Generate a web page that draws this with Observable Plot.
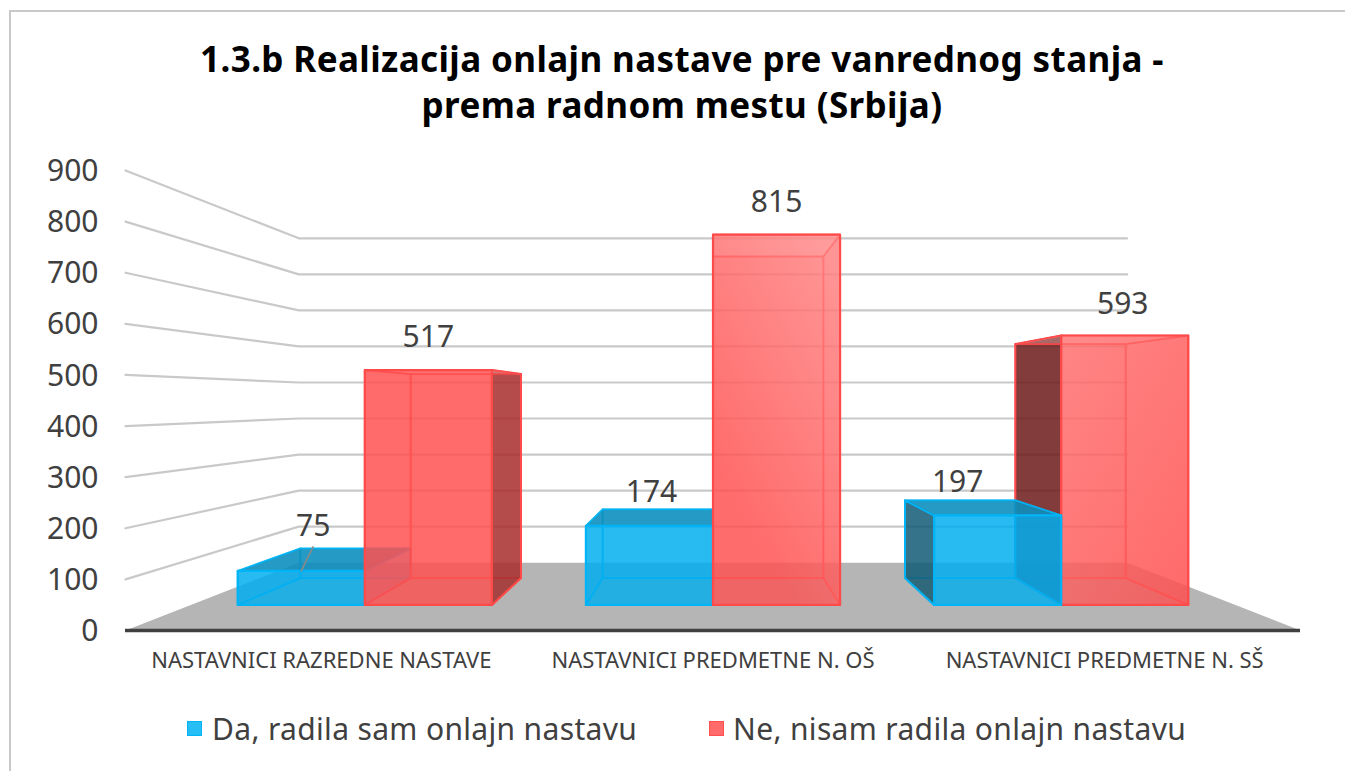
<!DOCTYPE html>
<html>
<head>
<meta charset="utf-8">
<script src="https://cdn.jsdelivr.net/npm/d3@7"></script>
<script src="https://cdn.jsdelivr.net/npm/@observablehq/plot@0.6"></script>
<style>
  html, body { margin: 0; padding: 0; background: #fff; }
  body { width: 1345px; height: 771px; overflow: hidden; position: relative; font-family: "Noto Sans", sans-serif; }
  #frame { position: absolute; left: 9px; top: 10px; right: -5px; bottom: -5px; border: 2px solid #c9c9c9; box-sizing: border-box; }
  #title { position: absolute; top: 36px; left: 0; width: 1364px; text-align: center; font-weight: 700; font-size: 35px; line-height: 46px; color: #000; letter-spacing: 0.39px; white-space: nowrap; }
  #chart { position: absolute; left: 0; top: 145px; }
  #chart svg { display: block; }
  .sw { position: absolute; top: 721px; width: 15px; height: 15px; box-sizing: border-box; border: 1.5px solid; }
  .lg { position: absolute; top: 708px; font-size: 30px; line-height: 42px; color: #404040; letter-spacing: 0.34px; white-space: nowrap; }
</style>
</head>
<body>
<div id="frame"></div>
<div id="title">1.3.b Realizacija onlajn nastave pre vanrednog stanja -<br>prema radnom mestu (Srbija)</div>
<div id="chart"></div>
<div class="sw" style="left:187px;background:#27BDF5;border-color:#00B4F5"></div>
<div class="lg" style="left:212px">Da, radila sam onlajn nastavu</div>
<div class="sw" style="left:709px;background:#FF6B6B;border-color:#FF4F4F"></div>
<div class="lg" style="left:733px">Ne, nisam radila onlajn nastavu</div>
<script>
const categories = ["NASTAVNICI RAZREDNE NASTAVE", "NASTAVNICI PREDMETNE N. OŠ", "NASTAVNICI PREDMETNE N. SŠ"];
const yesValues = [75, 174, 197];
const noValues = [517, 815, 593];
const yTicks = [0, 100, 200, 300, 400, 500, 600, 700, 800, 900];

// perspective model of the 3-D view: depth factor s scales about the vanishing point
const vanishC = 1, vanishV = 450;
const depthWall = 0.705, depthBarFront = 0.889, depthBarBack = 0.772;
const halfBar = 0.365;
const P = (c, v, s) => ({x: vanishC + (c - vanishC) * s, y: vanishV + (v - vanishV) * s});
const line = (pts, o) => Plot.line([...pts, pts[0]], {x: "x", y: "y", curve: "linear", ...o});

const blue = {
  back: "#00B0F0", bottom: "#0090C8", top: "#0E8DBA", front: "#00AEF0",
  stroke: "#00B4F5", dark: "#14566E"
};
const red = {
  back: "#FF5050", bottom: "#C03030", top: "#FFB8B8", front: "#FF5050",
  stroke: "#FF4A4A", dark: "#A22C2C", darker: "#641818"
};

function bar(c0, c1, v, pal, sideStyle, frontFill) {
  const f = depthBarFront, b = depthBarBack;
  const marks = [];
  const face = (pts, fill, op, sw = 1.6, so = 0.85) =>
    marks.push(line(pts, {fill, fillOpacity: op, stroke: pal.stroke, strokeWidth: sw, strokeOpacity: so, strokeLinejoin: "round"}));
  face([P(c0,0,b), P(c1,0,b), P(c1,v,b), P(c0,v,b)], pal.back, 0.3, 1.8, 0.7);
  face([P(c0,0,f), P(c1,0,f), P(c1,0,b), P(c0,0,b)], pal.bottom, 0.1, 1.8, 0.7);
  const left = [P(c0,0,f), P(c0,0,b), P(c0,v,b), P(c0,v,f)];
  const right = [P(c1,0,f), P(c1,0,b), P(c1,v,b), P(c1,v,f)];
  if (sideStyle.left) face(left, sideStyle.left, 0.8, 2, 1); else face(left, pal.back, 0.3, 1.8, 0.7);
  if (sideStyle.right) face(right, sideStyle.right, 0.8, 2, 1); else face(right, pal.back, 0.3, 1.8, 0.7);
  face([P(c0,v,f), P(c1,v,f), P(c1,v,b), P(c0,v,b)], pal.top, v > vanishV ? 0.3 : 0.86, 1.6, 0.9);
  face([P(c0,0,f), P(c1,0,f), P(c1,v,f), P(c0,v,f)], frontFill || pal.front, 0.78, 2.2, 1);
  return marks;
}

// floor and walls
const floor = [P(-0.5,0,1), P(2.5,0,1), P(2.5,0,depthWall), P(-0.5,0,depthWall)];
const grid = yTicks.slice(1).map(v => Plot.line([P(-0.5,v,1), P(-0.5,v,depthWall), P(2.5,v,depthWall)],
  {x:"x", y:"y", stroke:"#c9c9c9", strokeWidth:2.2}));

const barMarks = [
  ...bar(0 - halfBar, 0, yesValues[0], blue, {}),
  ...bar(0, 0 + halfBar, noValues[0], red, {right: red.dark}),
  ...bar(1 - halfBar, 1, yesValues[1], blue, {}),
  ...bar(1, 1 + halfBar, noValues[1], red, {}, "url(#redGrad)"),
  ...bar(2, 2 + halfBar, noValues[2], red, {left: red.darker}, "url(#redGrad2)"),
  ...bar(2 - halfBar, 2, yesValues[2], blue, {left: blue.dark})
];

// data labels sit above the front-top edge of each bar
const labelRows = [
  {c: -halfBar/2, v: yesValues[0], dx: 12, dy: -45},
  {c: halfBar/2, v: noValues[0], dx: 0, dy: -33},
  {c: 1-halfBar/2, v: yesValues[1], dx: 2, dy: -34},
  {c: 1+halfBar/2, v: noValues[1], dx: 0, dy: -32},
  {c: 2-halfBar/2, v: yesValues[2], dx: -40, dy: -33},
  {c: 2+halfBar/2, v: noValues[2], dx: -2, dy: -31}
].map(d => ({...P(d.c, d.v, depthBarFront), label: String(d.v), dx: d.dx, dy: d.dy}));

const labelMarks = labelRows.map(d => Plot.text([d], {x:"x", y:"y", text:"label", dx:d.dx, dy:d.dy, fontSize:30, fill:"#404040", stroke:"none"}));

// leader for the smallest label
const leadFrom = P(-halfBar/2, yesValues[0], depthBarFront);
const leader = Plot.line([leadFrom, {x: leadFrom.x + 0.03, y: leadFrom.y + 47}], {x:"x", y:"y", stroke:"#8a8a8a", strokeWidth:1.6});

const defs = () => {
  const d = d3.create("svg:defs");
  const g = d.append("linearGradient").attr("id","redGrad").attr("x1",0.8).attr("y1",0).attr("x2",0.2).attr("y2",1);
  g.append("stop").attr("offset",0).attr("stop-color","#FF8585");
  g.append("stop").attr("offset",0.8).attr("stop-color","#FF5252");
  const g2 = d.append("linearGradient").attr("id","redGrad2").attr("x1",0.1).attr("y1",0).attr("x2",0.9).attr("y2",1);
  g2.append("stop").attr("offset",0).attr("stop-color","#FF7070");
  g2.append("stop").attr("offset",1).attr("stop-color","#FF5050");
  return d.node();
};

const chart = Plot.plot({
  width: 1345, height: 540,
  marginLeft: 125, marginRight: 45, marginTop: 25, marginBottom: 55,
  x: {domain: [-0.5, 2.5], axis: null},
  y: {domain: [0, 900], axis: null},
  style: {fontFamily: '"Noto Sans", sans-serif', background: "transparent", overflow: "visible"},
  marks: [
    defs,
    line(floor, {fill:"#B5B5B5", stroke:"none"}),
    ...grid,
    Plot.ruleY([0], {x1: -0.5, x2: 2.5, stroke:"#404040", strokeWidth:3.5}),
    ...barMarks,
    leader,
    ...labelMarks,
    Plot.axisY({ticks: yTicks, tickSize: 0, tickPadding: 27, fontSize: 30, label: null, fill:"#404040", dy: 1}),
    Plot.axisX({ticks: [0,1,2], tickFormat: i => categories[i], tickSize: 0, tickPadding: 22, fontSize: 22, label: null, fill:"#404040", style: {letterSpacing: "0.3px"}})
  ]
});
document.getElementById("chart").appendChild(chart);
</script>
</body>
</html>
